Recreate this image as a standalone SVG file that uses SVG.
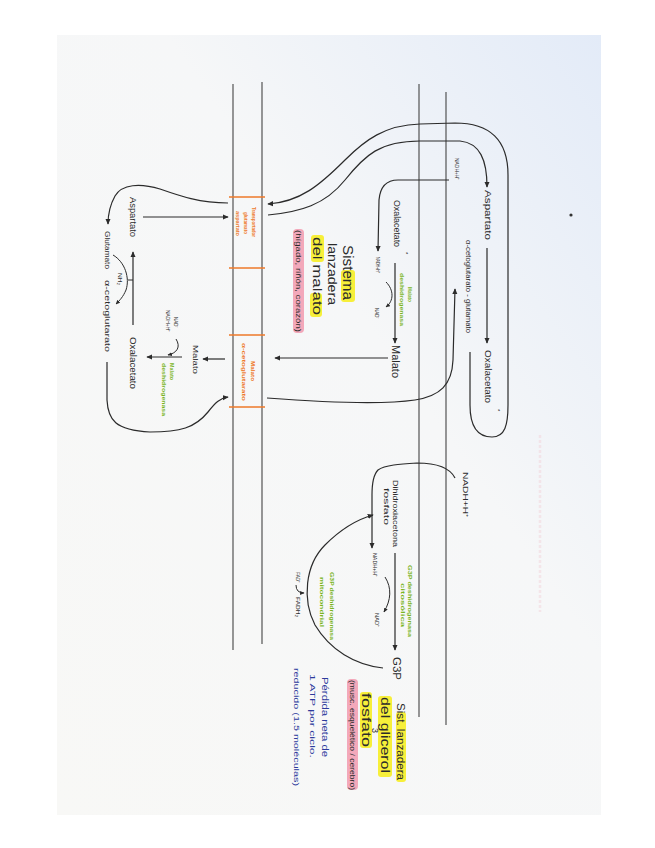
<svg xmlns="http://www.w3.org/2000/svg" width="655" height="848" viewBox="0 0 655 848">
<defs>
<linearGradient id="paper" x1="0" y1="1" x2="1" y2="0">
<stop offset="0" stop-color="#f8f8f6"/>
<stop offset="0.6" stop-color="#f6f7f8"/>
<stop offset="1" stop-color="#e3ebf8"/>
</linearGradient>
<marker id="ah" viewBox="0 0 8 8" refX="7" refY="4" markerWidth="6" markerHeight="6" orient="auto" markerUnits="userSpaceOnUse">
<path d="M0,0.5 L8,4 L0,7.5 Z" fill="#2b2b2b"/>
</marker>
<marker id="ahs" viewBox="0 0 8 8" refX="7" refY="4" markerWidth="4.5" markerHeight="4.5" orient="auto" markerUnits="userSpaceOnUse">
<path d="M0,0.5 L8,4 L0,7.5 Z" fill="#2b2b2b"/>
</marker>
</defs>
<style>
.t{font-family:"Liberation Sans",Arial,sans-serif;dominant-baseline:central;fill:#2b2b2b}
.g{font-family:"Liberation Sans",Arial,sans-serif;dominant-baseline:central;fill:#7ab51f;font-weight:bold}
.o{font-family:"Liberation Sans",Arial,sans-serif;dominant-baseline:central;fill:#ee7a2a;font-weight:bold}
.b{font-family:"Liberation Sans",Arial,sans-serif;dominant-baseline:central;fill:#2c3a9c}
.m{stroke:#444;stroke-width:1.1;fill:none}
.c{stroke:#2b2b2b;stroke-width:1.2;fill:none}
.cs{stroke:#2b2b2b;stroke-width:1;fill:none}
.ob{stroke:#ee7a2a;stroke-width:1.3}
.y{fill:#f7ef3a}
.p{fill:#f3a8ba}
</style>

<rect x="0" y="0" width="655" height="848" fill="#ffffff"/>
<rect x="57" y="35" width="544" height="780" fill="url(#paper)"/>
<circle cx="571" cy="215" r="1.6" fill="#333"/>
<path d="M540,435 L540,612" stroke="#f2c6d0" stroke-width="2.5" stroke-dasharray="3 2" opacity="0.35"/>

<g id="membranes">
<path class="m" d="M233,84 V650"/>
<path class="m" d="M262,82 V644"/>
<path class="m" d="M419,84 V717"/>
<path class="m" d="M446,92 V725"/>
</g>

<g id="transportador-glu-asp">
<path class="ob" d="M229,197 H265 M229,268 H265"/>
<text class="o" font-size="4.6" textLength="30" lengthAdjust="spacingAndGlyphs" transform="translate(253 207) rotate(90)">Transportador</text>
<text class="o" font-size="4.6" textLength="22" lengthAdjust="spacingAndGlyphs" transform="translate(245 212) rotate(90)">glutamato</text>
<text class="o" font-size="4.6" textLength="25" lengthAdjust="spacingAndGlyphs" transform="translate(237 211) rotate(90)">aspartato</text>
</g>
<g id="transportador-malato-akg">
<path class="ob" d="M229,335 H265 M229,407 H265"/>
<text class="o" font-size="4.8" textLength="20" lengthAdjust="spacingAndGlyphs" transform="translate(252 361) rotate(90)">Malato</text>
<text class="o" font-size="4.8" textLength="58" lengthAdjust="spacingAndGlyphs" transform="translate(243 343) rotate(90)">α-cetoglutarato</text>
</g>

<g id="connectors">
<path class="c" marker-end="url(#ah)" d="M268,215 C300,212 325,205 345,180 C365,155 380,141 420,141 L460,141 C480,143 487,160 487,187"/>
<path class="c" marker-end="url(#ah)" d="M470,352 L470,405 C470,430 480,437 492,437 C505,437 508,425 508,405 L508,175 C508,140 490,123 455,123 L420,124 C385,125 365,140 345,160 C320,185 300,202 268,204"/>
<path class="c" marker-end="url(#ah)" d="M267,398 C320,402 380,405 415,400 C440,396 452,385 453,360 L455,289"/>
<path class="c" marker-end="url(#ah)" d="M449,180 L398,180 C385,180 380,188 379,200 L378,251"/>
<path class="c" marker-end="url(#ah)" d="M395,263 L395,343"/>
<path class="cs" marker-end="url(#ahs)" d="M386,282 C394,290 394,301 386,307"/>
<path class="c" marker-end="url(#ah)" d="M388,358 L275,358"/>
<path class="c" marker-end="url(#ah)" d="M487,248 L487,343"/>
<path class="c" marker-end="url(#ah)" d="M143,217 L228,217"/>
<path class="c" marker-end="url(#ah)" d="M228,203 C200,203 180,196 160,189 C140,183 122,184 115,196 C110,205 108,213 108,224"/>
<path class="c" marker-end="url(#ah)" d="M133,325 L133,252"/>
<path class="cs" d="M133,280 L128,280"/>
<path class="cs" marker-end="url(#ahs)" d="M113,255 C125,262 130,278 126,290 C123,297 120,300 116,304"/>
<path class="c" marker-end="url(#ah)" d="M225,359 L203,359"/>
<path class="c" marker-end="url(#ah)" d="M182,357 L147,357"/>
<path class="cs" marker-end="url(#ahs)" d="M176,339 C181,347 177,353 168,355"/>
<path class="c" marker-end="url(#ah)" d="M107,362 L107,400 C108,420 115,430 150,432 C180,432 195,428 208,412 C215,403 220,398 228,397"/>
<path class="c" marker-end="url(#ah)" d="M455,478 C450,468 438,463 417,463 C400,464 385,465 378,470 C373,475 372,485 372,495 L372,548"/>
<path class="c" marker-end="url(#ah)" d="M395,553 L395,650"/>
<path class="cs" marker-end="url(#ahs)" d="M385,577 C392,588 391,600 384,612"/>
<path class="c" marker-end="url(#ah)" d="M383,668 C355,665 330,650 315,625 C302,600 305,565 325,545 C340,530 355,520 373,515"/>
<path class="cs" marker-end="url(#ahs)" d="M296,585 Q296,593 304,593"/>
</g>

<g id="nadh-top">
<text class="t" font-size="6" textLength="22" lengthAdjust="spacingAndGlyphs" transform="translate(457 158) rotate(90)">NADH+H⁺</text>
</g>
<g id="oxalacetato-m">
<text class="t" font-size="8.5" textLength="47" lengthAdjust="spacingAndGlyphs" transform="translate(397 200) rotate(90)">Oxalacetato</text>
<text class="t" font-size="6" transform="translate(406 252) rotate(90)">*</text>
</g>
<g id="mdh-matrix">
<text class="t" font-size="5.5" textLength="16" lengthAdjust="spacingAndGlyphs" transform="translate(378 257) rotate(90)">NADH+H⁺</text>
<text class="t" font-size="5.5" textLength="11" lengthAdjust="spacingAndGlyphs" transform="translate(377 308) rotate(90)">NAD⁺</text>
<text class="g" font-size="5" textLength="15" lengthAdjust="spacingAndGlyphs" transform="translate(410 287) rotate(90)">Malato</text>
<text class="g" font-size="5" textLength="53" lengthAdjust="spacingAndGlyphs" transform="translate(402 273) rotate(90)">deshidrogenasa</text>
</g>
<g id="malato-m">
<text class="t" font-size="10" textLength="33" lengthAdjust="spacingAndGlyphs" transform="translate(395 345) rotate(90)">Malato</text>
</g>
<g id="aspartato-m">
<text class="t" font-size="9.5" textLength="50" lengthAdjust="spacingAndGlyphs" transform="translate(488 190) rotate(90)">Aspartato</text>
</g>
<g id="akg-glu-m">
<text class="t" font-size="6.5" textLength="93" lengthAdjust="spacingAndGlyphs" transform="translate(468 240) rotate(90)">α-cetoglutarato - glutamato</text>
</g>
<g id="oxalacetato-m2">
<text class="t" font-size="9.5" textLength="53" lengthAdjust="spacingAndGlyphs" transform="translate(488 350) rotate(90)">Oxalacetato</text>
<text class="t" font-size="6" transform="translate(498 409) rotate(90)">*</text>
</g>

<g id="aspartato-c">
<text class="t" font-size="8.5" textLength="40" lengthAdjust="spacingAndGlyphs" transform="translate(133 197) rotate(90)">Aspartato</text>
</g>
<g id="glutamato-c">
<text class="t" font-size="7.5" textLength="38" lengthAdjust="spacingAndGlyphs" transform="translate(107 231) rotate(90)">Glutamato</text>
</g>
<g id="akg-c">
<text class="t" font-size="8" textLength="72" lengthAdjust="spacingAndGlyphs" transform="translate(107 280) rotate(90)">α-cetoglutarato</text>
</g>
<g id="nh2">
<text class="t" font-size="5" textLength="12" lengthAdjust="spacingAndGlyphs" transform="translate(120 273) rotate(90)">NH₂</text>
</g>
<g id="oxalacetato-c">
<text class="t" font-size="8.5" textLength="52" lengthAdjust="spacingAndGlyphs" transform="translate(133 337) rotate(90)">Oxalacetato</text>
</g>
<g id="malato-c">
<text class="t" font-size="8" textLength="29" lengthAdjust="spacingAndGlyphs" transform="translate(195 345) rotate(90)">Malato</text>
</g>
<g id="mdh-cyt">
<text class="t" font-size="5.5" textLength="11" lengthAdjust="spacingAndGlyphs" transform="translate(176 317) rotate(90)">NAD⁺</text>
<text class="t" font-size="5.5" textLength="22" lengthAdjust="spacingAndGlyphs" transform="translate(168 310) rotate(90)">NADH+H⁺</text>
<text class="g" font-size="5.5" textLength="17" lengthAdjust="spacingAndGlyphs" transform="translate(172 363) rotate(90)">Malato</text>
<text class="g" font-size="5.5" textLength="53" lengthAdjust="spacingAndGlyphs" transform="translate(164 363) rotate(90)">deshidrogenasa</text>
</g>

<g id="titulo-malato">
<rect class="y" x="341" y="270" width="14" height="32" rx="3"/>
<rect class="y" x="311" y="235" width="13" height="27" rx="3"/>
<rect class="y" x="310" y="293" width="12" height="24" rx="3"/>
<rect class="p" x="293" y="229" width="11" height="104" rx="4"/>
<text class="t" font-size="14" textLength="55" lengthAdjust="spacingAndGlyphs" transform="translate(348 245) rotate(90)">Sistema</text>
<text class="t" font-size="13" textLength="62" lengthAdjust="spacingAndGlyphs" transform="translate(332 243) rotate(90)">lanzadera</text>
<text class="t" font-size="13" textLength="78" lengthAdjust="spacingAndGlyphs" transform="translate(317 237) rotate(90)">del malato</text>
<text class="t" font-size="7.5" textLength="102" lengthAdjust="spacingAndGlyphs" transform="translate(298 230) rotate(90)">(hígado, riñón, corazón)</text>
</g>

<g id="nadh-glicerol">
<text class="t" font-size="7" textLength="45" lengthAdjust="spacingAndGlyphs" transform="translate(465 472) rotate(90)">NADH+H⁺</text>
</g>
<g id="dhap">
<text class="t" font-size="8" textLength="67" lengthAdjust="spacingAndGlyphs" transform="translate(395 480) rotate(90)">Dihidroxiacetona</text>
<text class="t" font-size="8" textLength="37" lengthAdjust="spacingAndGlyphs" transform="translate(386 488) rotate(90)">fosfato</text>
</g>
<g id="g3pdh-cyt">
<text class="t" font-size="6" textLength="24" lengthAdjust="spacingAndGlyphs" transform="translate(375 553) rotate(90)">NADH+H⁺</text>
<text class="t" font-size="6" textLength="14" lengthAdjust="spacingAndGlyphs" transform="translate(377 613) rotate(90)">NAD⁺</text>
<text class="g" font-size="5.5" textLength="72" lengthAdjust="spacingAndGlyphs" transform="translate(410 565) rotate(90)">G3P deshidrogenasa</text>
<text class="g" font-size="5.5" textLength="44" lengthAdjust="spacingAndGlyphs" transform="translate(403 583) rotate(90)">citosólica</text>
</g>
<g id="g3p">
<text class="t" font-size="11" textLength="23" lengthAdjust="spacingAndGlyphs" transform="translate(397 657) rotate(90)">G3P</text>
</g>
<g id="g3pdh-mit">
<text class="t" font-size="5.5" textLength="11" lengthAdjust="spacingAndGlyphs" transform="translate(298 572) rotate(90)">FAD⁺</text>
<text class="t" font-size="5.5" textLength="20" lengthAdjust="spacingAndGlyphs" transform="translate(298 597) rotate(90)">FADH₂</text>
<text class="g" font-size="5.5" textLength="68" lengthAdjust="spacingAndGlyphs" transform="translate(332 572) rotate(90)">G3P deshidrogenasa</text>
<text class="g" font-size="5.5" textLength="50" lengthAdjust="spacingAndGlyphs" transform="translate(322 577) rotate(90)">mitocondrial</text>
</g>

<g id="titulo-glicerol">
<rect class="y" x="396" y="712" width="10" height="70" rx="3"/>
<rect class="y" x="378" y="696" width="14" height="81" rx="3"/>
<rect class="y" x="360" y="692" width="12" height="56" rx="3"/>
<rect class="p" x="347" y="679" width="11" height="111" rx="4"/>
<text class="t" font-size="10" textLength="77" lengthAdjust="spacingAndGlyphs" transform="translate(400 703) rotate(90)">Sist. lanzadera</text>
<text class="t" font-size="12" textLength="76" lengthAdjust="spacingAndGlyphs" transform="translate(385 697) rotate(90)">del glicerol</text>
<text class="t" font-size="9" transform="translate(375 728) rotate(90)">3</text>
<text class="t" font-size="12" textLength="54" lengthAdjust="spacingAndGlyphs" transform="translate(366 693) rotate(90)">fosfato</text>
<text class="t" font-size="7" textLength="110" lengthAdjust="spacingAndGlyphs" transform="translate(352 680) rotate(90)">(musc. esquelético / cerebro)</text>
<text class="b" font-size="9.5" textLength="80" lengthAdjust="spacingAndGlyphs" transform="translate(325 677) rotate(90)">Pérdida neta de</text>
<text class="b" font-size="8" textLength="84" lengthAdjust="spacingAndGlyphs" transform="translate(312 674) rotate(90)">1 ATP por ciclo.</text>
<text class="b" font-size="7" textLength="118" lengthAdjust="spacingAndGlyphs" transform="translate(296 668) rotate(90)">reducido (1.5 moléculas)</text>
</g>
</svg>
